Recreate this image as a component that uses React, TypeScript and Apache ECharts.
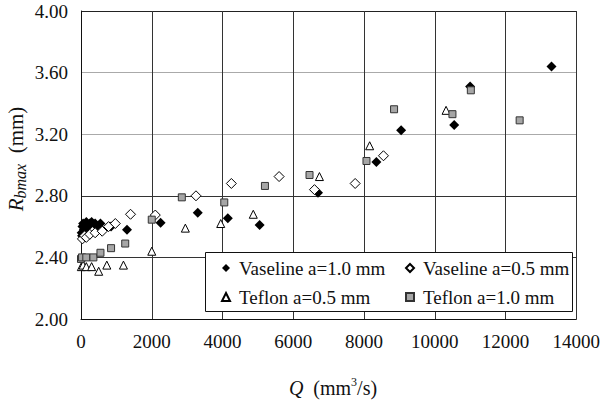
import { useEffect, useRef } from 'react';
import * as echarts from 'echarts';

// Q (mm^3/s), Rbmax (mm)
const vaseline10: [number, number][] = [
  [20, 2.56], [30, 2.54], [40, 2.60], [60, 2.62], [80, 2.58], [100, 2.61], [150, 2.63],
  [200, 2.60], [250, 2.62], [300, 2.63], [400, 2.62], [450, 2.60], [550, 2.62],
  [850, 2.60], [1300, 2.58], [2250, 2.625], [3300, 2.69], [4150, 2.655], [5050, 2.61],
  [6700, 2.82], [8350, 3.02], [9050, 3.225], [10550, 3.26], [11000, 3.51], [13300, 3.64],
];
const vaseline05: [number, number][] = [
  [40, 2.52], [100, 2.54], [150, 2.53], [250, 2.55], [400, 2.56], [600, 2.57], [780, 2.60],
  [970, 2.62], [1400, 2.68], [2100, 2.675], [3250, 2.80], [4250, 2.88], [5600, 2.925],
  [6600, 2.84], [7750, 2.88], [8550, 3.06],
];
const teflon05: [number, number][] = [
  [10, 2.34], [60, 2.35], [150, 2.34], [300, 2.34], [500, 2.31], [730, 2.35], [1200, 2.35],
  [2000, 2.44], [2950, 2.59], [3950, 2.62], [4870, 2.68], [6740, 2.925], [8160, 3.125],
  [10320, 3.355],
];
const teflon10: [number, number][] = [
  [0, 2.39], [30, 2.40], [150, 2.40], [350, 2.40], [550, 2.43], [850, 2.46], [1250, 2.49],
  [2000, 2.645], [2850, 2.79], [4050, 2.757], [5200, 2.864], [6460, 2.935], [8070, 3.026],
  [8850, 3.362], [10500, 3.33], [11020, 3.485], [12400, 3.29],
];
const seriesNames = ['Vaseline a=1.0 mm', 'Vaseline a=0.5 mm', 'Teflon a=0.5 mm', 'Teflon a=1.0 mm'];

const FONT = 'Liberation Serif';

export default function App() {
  const ref = useRef<HTMLDivElement>(null);
  useEffect(() => {
    if (!ref.current) return;
    const chart = echarts.init(ref.current, undefined, { renderer: 'svg' });
    const legendCommon = {
      orient: 'vertical',
      itemWidth: 8,
      itemHeight: 8,
      itemGap: 9,
      padding: 0,
      selectedMode: false,
      textStyle: { fontFamily: FONT, fontSize: 19, color: '#111', lineHeight: 20, padding: [0, 0, 0, 4] },
    };
    chart.setOption({
      animation: false,
      textStyle: { fontFamily: FONT },
      grid: { left: 81, top: 11, width: 503, height: 308 },
      xAxis: {
        type: 'value',
        min: 0,
        max: 14000,
        interval: 2000,
        axisLine: { show: true, lineStyle: { color: '#111', width: 1 } },
        axisTick: { show: false },
        axisLabel: { fontFamily: FONT, fontSize: 19, color: '#111', margin: 13, formatter: (v: number) => String(v) },
        splitLine: { show: true, showMinLine: true, showMaxLine: true, lineStyle: { color: '#333', width: 1 } },
      },
      yAxis: {
        type: 'value',
        min: 2,
        max: 4,
        interval: 0.4,
        axisLine: { show: true, lineStyle: { color: '#111', width: 1 } },
        axisTick: { show: false },
        axisLabel: { fontFamily: FONT, fontSize: 19, color: '#111', margin: 13, formatter: (v: number) => v.toFixed(2) },
        splitLine: {
          show: true,
          showMinLine: true,
          showMaxLine: true,
          lineStyle: { color: ['#222', '#333', '#333', '#aaa', '#aaa', '#222'], width: 1 },
        },
      },
      legend: [
        { ...legendCommon, data: [seriesNames[0], seriesNames[2]], left: 221, top: 258 },
        { ...legendCommon, data: [seriesNames[1], seriesNames[3]], left: 405, top: 258 },
      ],
      graphic: [
        {
          type: 'rect',
          z: 3,
          shape: { x: 205.5, y: 252.5, width: 367, height: 59 },
          style: { fill: '#fff', stroke: '#111', lineWidth: 1 },
        },
        {
          type: 'text',
          z: 5,
          x: 333,
          y: 388,
          style: {
            text: '{q|Q}{n|  (mm}{sup|3}{n|/s)}',
            align: 'center',
            verticalAlign: 'middle',
            fill: '#111',
            rich: {
              q: { fontFamily: FONT, fontSize: 20, fontStyle: 'italic', fill: '#111', lineHeight: 24 },
              n: { fontFamily: FONT, fontSize: 20, fill: '#111', lineHeight: 24 },
              sup: { fontFamily: FONT, fontSize: 12, fill: '#111', lineHeight: 24, verticalAlign: 'top' },
            },
          },
        },
        {
          type: 'text',
          z: 5,
          x: 16,
          y: 159,
          rotation: Math.PI / 2,
          style: {
            text: '{r|R}{s|bmax}{n|  (mm)}',
            align: 'center',
            verticalAlign: 'middle',
            fill: '#111',
            rich: {
              r: { fontFamily: FONT, fontSize: 21, fontStyle: 'italic', fill: '#111', lineHeight: 24 },
              s: { fontFamily: FONT, fontSize: 16, fontStyle: 'italic', fill: '#111', lineHeight: 24, verticalAlign: 'bottom' },
              n: { fontFamily: FONT, fontSize: 21, fill: '#111', lineHeight: 24 },
            },
          },
        },
      ],
      series: [
        {
          name: seriesNames[0],
          type: 'scatter',
          symbol: 'diamond',
          symbolSize: 10,
          data: vaseline10,
          itemStyle: { color: '#000', opacity: 1 },
        },
        {
          name: seriesNames[1],
          type: 'scatter',
          symbol: 'diamond',
          symbolSize: 10,
          data: vaseline05,
          itemStyle: { color: '#fff', borderColor: '#000', borderWidth: 1, opacity: 1 },
        },
        {
          name: seriesNames[2],
          type: 'scatter',
          symbol: 'triangle',
          symbolSize: 8,
          data: teflon05,
          itemStyle: { color: '#fff', borderColor: '#000', borderWidth: 1, opacity: 1 },
        },
        {
          name: seriesNames[3],
          type: 'scatter',
          symbol: 'rect',
          symbolSize: 7,
          data: teflon10,
          itemStyle: { color: '#a6a6a6', borderColor: '#333', borderWidth: 1, opacity: 1 },
        },
      ],
    });
    return () => chart.dispose();
  }, []);
  return <div ref={ref} style={{ position: 'absolute', left: 0, top: 0, width: 603, height: 403 }} />;
}
